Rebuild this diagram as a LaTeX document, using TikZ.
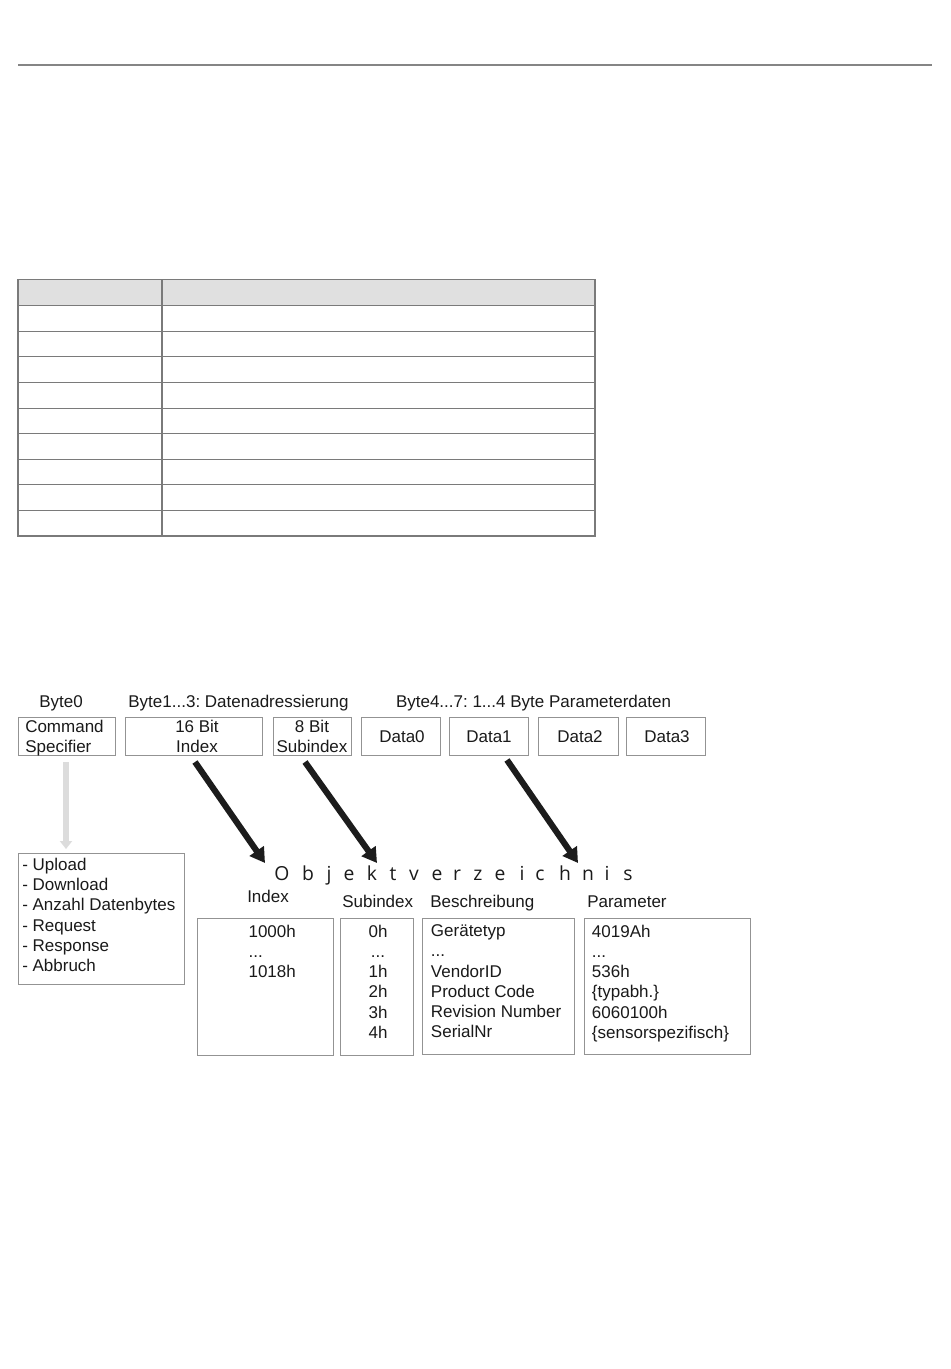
\documentclass[tikz,border=0pt]{standalone}
\usepackage{fontspec}
\setmainfont{Liberation Sans}
\newfontfamily\objfont{Open Sans}
\usetikzlibrary{arrows.meta,fit}
\frenchspacing
\definecolor{rulegray}{HTML}{858585}
\definecolor{boxgray}{HTML}{939393}
\definecolor{tablegray}{HTML}{7A7A7A}
\definecolor{headfill}{HTML}{E0E0E0}
\definecolor{lightarrow}{HTML}{DCDCDC}
\definecolor{darkarrow}{HTML}{1C1C1C}
\definecolor{txtcol}{HTML}{1A1A1A}
\begin{document}
\begin{tikzpicture}[x=0.75pt,y=-0.75pt,
  box/.style={draw=boxgray,line width=0.75pt,inner sep=0pt},
  txt/.style={inner sep=0pt,text=txtcol,font=\fontsize{12.75pt}{15.2pt}\selectfont},
  obj/.style={inner sep=0pt,text=txtcol,font=\objfont\fontsize{14.5pt}{16pt}\selectfont,anchor=base},
  bigarrow/.style={draw=darkarrow,line width=4.6pt,-{Triangle[length=11pt,width=12.5pt]}},
  greyarrow/.style={draw=lightarrow,line width=4.5pt,-{Triangle[length=6pt,width=9pt]}},
  tableline/.style={draw=tablegray,line width=1pt}]
\useasboundingbox[fill=white] (0,0) rectangle (950,1369);

% top rule
\coordinate (r1) at (18,65);
\coordinate (r2) at (932,65);
\draw[rulegray,line width=1.5pt] (r1) -- (r2);

% empty table
\fill[headfill] (18,279.5) rectangle (595,305.5);
\foreach \yy in {305.5,331.3,356.5,382.3,408.3,433.3,459.3,484.5,510.3}
  \draw[tableline] (18,\yy) -- (595,\yy);
\draw[tableline] (162,279.5) -- (162,536);
\draw[tableline] (18,279.5) rectangle (595,536);

% byte labels
\node[txt,anchor=base] (lb0) at (61,707) {Byte0};
\node[txt,anchor=base] (lb1) at (238.5,707) {Byte1...3: Datenadressierung};
\node[txt,anchor=base] (lb4) at (533.5,707) {Byte4...7: 1...4 Byte Parameterdaten};

% byte boxes
\node[box,fit={(18,717) (115,755)}] (cmd) {};
\node[box,fit={(125.5,717) (262.5,755)}] (idx) {};
\node[box,fit={(273,717) (351.5,755)}] (sub) {};
\node[box,fit={(361.5,717) (440.5,755)}] (d0) {};
\node[box,fit={(449.5,717) (528.5,755)}] (d1) {};
\node[box,fit={(538,717) (618,755)}] (d2) {};
\node[box,fit={(626.5,717) (705.5,755)}] (d3) {};

\node[txt,anchor=north west,align=left] (cmdt) at (25,719.8) {Command\\Specifier};
\node[txt,anchor=north,align=center] (idxt) at (197,719.8) {16 Bit\\Index};
\node[txt,anchor=north,align=center] (subt) at (312,719.8) {8 Bit\\Subindex};
\node[txt,anchor=base] (d0t) at (402,742) {Data0};
\node[txt,anchor=base] (d1t) at (489,742) {Data1};
\node[txt,anchor=base] (d2t) at (580,742) {Data2};
\node[txt,anchor=base] (d3t) at (667,742) {Data3};

% grey arrow to command list
\coordinate (ga1) at (66,762);
\coordinate (ga2) at (66,849);
\draw[greyarrow] (ga1) -- (ga2);

\node[box,fit={(18.3,853.3) (184.3,984)}] (list) {};
\node[txt,anchor=north west,align=left] (listt) at (22,857.8)
  {- Upload\\- Download\\- Anzahl Datenbytes\\- Request\\- Response\\- Abbruch};

% Objektverzeichnis
\foreach \l/\x [count=\i] in {O/282,b/308,j/329,e/349,k/372,t/393,v/414,e/437,r/457,z/478,e/500,i/522,c/540,h/565,n/588,i/607,s/628}
  \node[obj] (ov\i) at (\x,880) {\l};

% column headers
\node[txt,anchor=base west] (hidx) at (247,902) {Index};
\node[txt,anchor=base west] (hsub) at (342,907) {Subindex};
\node[txt,anchor=base west] (hdesc) at (430,907) {Beschreibung};
\node[txt,anchor=base west] (hpar) at (587,907) {Parameter};

% object dictionary boxes
\node[box,fit={(197,918.5) (333.3,1055)}] (idxbox) {};
\node[box,fit={(340.5,918.5) (413.3,1055)}] (subbox) {};
\node[box,fit={(422.3,918.5) (574.3,1054.5)}] (descbox) {};
\node[box,fit={(584.3,918.5) (750,1054.5)}] (parbox) {};

\node[txt,anchor=north west,align=left] (idxc) at (248.3,924.5) {1000h\\...\\1018h};
\node[txt,anchor=north,align=center] (subc) at (378,924.5) {0h\\...\\1h\\2h\\3h\\4h};
\node[txt,anchor=north west,align=left] (descc) at (430.7,924.5)
  {Gerätetyp\\...\\VendorID\\Product Code\\Revision Number\\SerialNr};
\node[txt,anchor=north west,align=left] (parc) at (591.7,924.5)
  {4019Ah\\...\\536h\\\{typabh.\}\\6060100h\\\{sensorspezifisch\}};

% black arrows
\coordinate (a1s) at (195,762);
\coordinate (a1e) at (265,863);
\coordinate (a2s) at (305,762);
\coordinate (a2e) at (377,863);
\coordinate (a3s) at (507,760);
\coordinate (a3e) at (578,863);
\draw[bigarrow] (a1s) -- (a1e);
\draw[bigarrow] (a2s) -- (a2e);
\draw[bigarrow] (a3s) -- (a3e);
\end{tikzpicture}
\end{document}
